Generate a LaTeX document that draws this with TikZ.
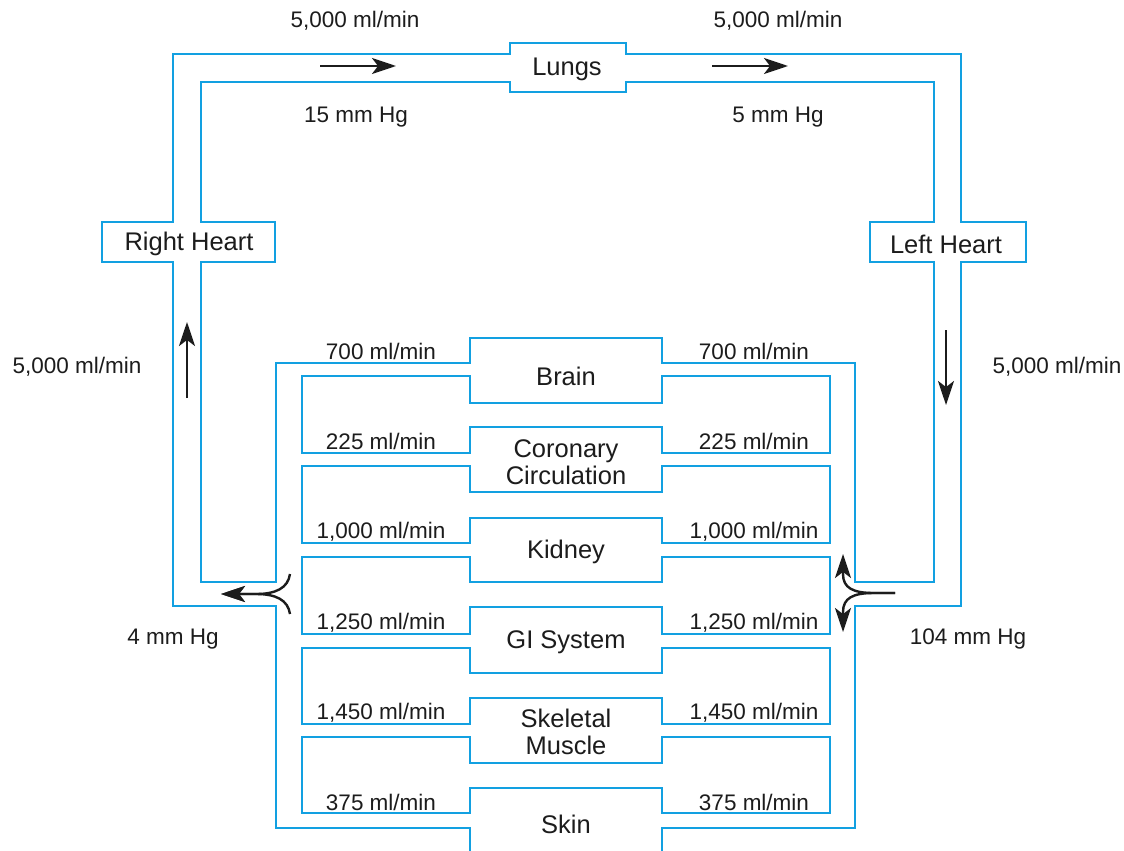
\documentclass[tikz,border=0pt]{standalone}
\usepackage{fontspec}
\setmainfont{Liberation Sans}
\usetikzlibrary{arrows.meta}
\definecolor{tube}{RGB}{18,160,225}
\definecolor{ink}{RGB}{28,28,28}
\begin{document}
\begin{tikzpicture}[x=1pt,y=-1pt,
  tubeline/.style={draw=tube, line width=2.9pt, line join=miter},
  flow/.style={text=ink, font=\fontsize{22.5}{26}\selectfont, inner sep=0pt},
  organ/.style={text=ink, font=\fontsize{25.5}{27}\selectfont, inner sep=0pt, align=center},
  flowarrow/.style={draw=ink, line width=2.4pt, -{Stealth[length=24pt,width=16pt,inset=6pt]}}]
\useasboundingbox (0,0) rectangle (1124,851);
\clip (0,0) rectangle (1124,851);
\fill[white] (0,0) rectangle (1124,851);

% inner pulmonary loop joined with top of systemic loop
\draw[tubeline] (276,582) -- (276,363) -- (470,363) -- (470,338) -- (662,338) -- (662,363)
  -- (855,363) -- (855,582) -- (934,582) -- (934,262) -- (870,262) -- (870,222) -- (934,222)
  -- (934,82) -- (626,82) -- (626,92) -- (510,92) -- (510,82) -- (201,82) -- (201,222)
  -- (275,222) -- (275,262) -- (201,262) -- (201,582) -- cycle;
% outer pulmonary loop joined with bottom of systemic loop
\draw[tubeline] (470,870) -- (470,828) -- (276,828) -- (276,606) -- (173,606) -- (173,262)
  -- (102,262) -- (102,222) -- (173,222) -- (173,54) -- (510,54) -- (510,43) -- (626,43)
  -- (626,54) -- (961,54) -- (961,222) -- (1026,222) -- (1026,262) -- (961,262) -- (961,606)
  -- (855,606) -- (855,828) -- (662,828) -- (662,870);
% islands between organ channels
\draw[tubeline] (302,376) -- (470,376) -- (470,403) -- (662,403) -- (662,376) -- (830,376)
  -- (830,453) -- (662,453) -- (662,427) -- (470,427) -- (470,453) -- (302,453) -- cycle;
\draw[tubeline] (302,466) -- (470,466) -- (470,492) -- (662,492) -- (662,466) -- (830,466)
  -- (830,543) -- (662,543) -- (662,518) -- (470,518) -- (470,543) -- (302,543) -- cycle;
\draw[tubeline] (302,557) -- (470,557) -- (470,582) -- (662,582) -- (662,557) -- (830,557)
  -- (830,634) -- (662,634) -- (662,607) -- (470,607) -- (470,634) -- (302,634) -- cycle;
\draw[tubeline] (302,648) -- (470,648) -- (470,673) -- (662,673) -- (662,648) -- (830,648)
  -- (830,724) -- (662,724) -- (662,698) -- (470,698) -- (470,724) -- (302,724) -- cycle;
\draw[tubeline] (302,737) -- (470,737) -- (470,763) -- (662,763) -- (662,737) -- (830,737)
  -- (830,813) -- (662,813) -- (662,788) -- (470,788) -- (470,813) -- (302,813) -- cycle;

% organ labels
\node[organ] (lungs) at (567,69) {Lungs};
\node[organ] (rheart) at (189,244) {Right Heart};
\node[organ] (lheart) at (946,244) {Left Heart};
\node[organ] (brain) at (566,376) {Brain};
\node[organ] (coronary) at (566,462) {Coronary\\Circulation};
\node[organ] (kidney) at (566,552) {Kidney};
\node[organ] (gi) at (566,642) {GI System};
\node[organ] (muscle) at (566,732) {Skeletal\\Muscle};
\node[organ] (skin) at (566,824) {Skin};

% flow and pressure labels
\node[flow] (ftl) at (355,21) {5,000 ml/min};
\node[flow] (ftr) at (778,21) {5,000 ml/min};
\node[flow] (ptl) at (356,117) {15 mm Hg};
\node[flow] (ptr) at (778,117) {5 mm Hg};
\node[flow] (fl) at (77,367) {5,000 ml/min};
\node[flow] (fr) at (1057,367) {5,000 ml/min};
\node[flow] (pl) at (173,639) {4 mm Hg};
\node[flow] (pr) at (968,639) {104 mm Hg};
\node[flow] (b1) at (381,351) {700 ml/min};
\node[flow] (b2) at (754,351) {700 ml/min};
\node[flow] (c1) at (381,441) {225 ml/min};
\node[flow] (c2) at (754,441) {225 ml/min};
\node[flow] (k1) at (381,532) {1,000 ml/min};
\node[flow] (k2) at (754,532) {1,000 ml/min};
\node[flow] (g1) at (381,623) {1,250 ml/min};
\node[flow] (g2) at (754,623) {1,250 ml/min};
\node[flow] (s1) at (381,713) {1,450 ml/min};
\node[flow] (s2) at (754,713) {1,450 ml/min};
\node[flow] (n1) at (381,802) {375 ml/min};
\node[flow] (n2) at (754,802) {375 ml/min};

% arrow coordinates
\coordinate (a1s) at (320,66); \coordinate (a1e) at (396,66);
\coordinate (a2s) at (712,66); \coordinate (a2e) at (788,66);
\coordinate (a3s) at (187,398); \coordinate (a3e) at (187,322);
\coordinate (a4s) at (946,330); \coordinate (a4e) at (946,405);
\coordinate (lj1) at (290,574); \coordinate (lj2) at (290,614);
\coordinate (ljm) at (256,594); \coordinate (lje) at (221,594);
\coordinate (rjs) at (895,593); \coordinate (rjm) at (874,593);
\coordinate (rju) at (843,554); \coordinate (rjd) at (843,632);

\draw[flowarrow] (a1s) -- (a1e);
\draw[flowarrow] (a2s) -- (a2e);
\draw[flowarrow] (a3s) -- (a3e);
\draw[flowarrow] (a4s) -- (a4e);
\draw[flowarrow] (lj1) .. controls (288,588) and (276,594) .. (ljm) -- (lje);
\draw[flowarrow] (lj2) .. controls (288,600) and (276,594) .. (ljm) -- (lje);
\draw[flowarrow] (rjs) -- (rjm) .. controls (853,593) and (843,588) .. (843,574) -- (rju);
\draw[flowarrow] (rjs) -- (rjm) .. controls (853,593) and (843,598) .. (843,612) -- (rjd);
\end{tikzpicture}
\end{document}
